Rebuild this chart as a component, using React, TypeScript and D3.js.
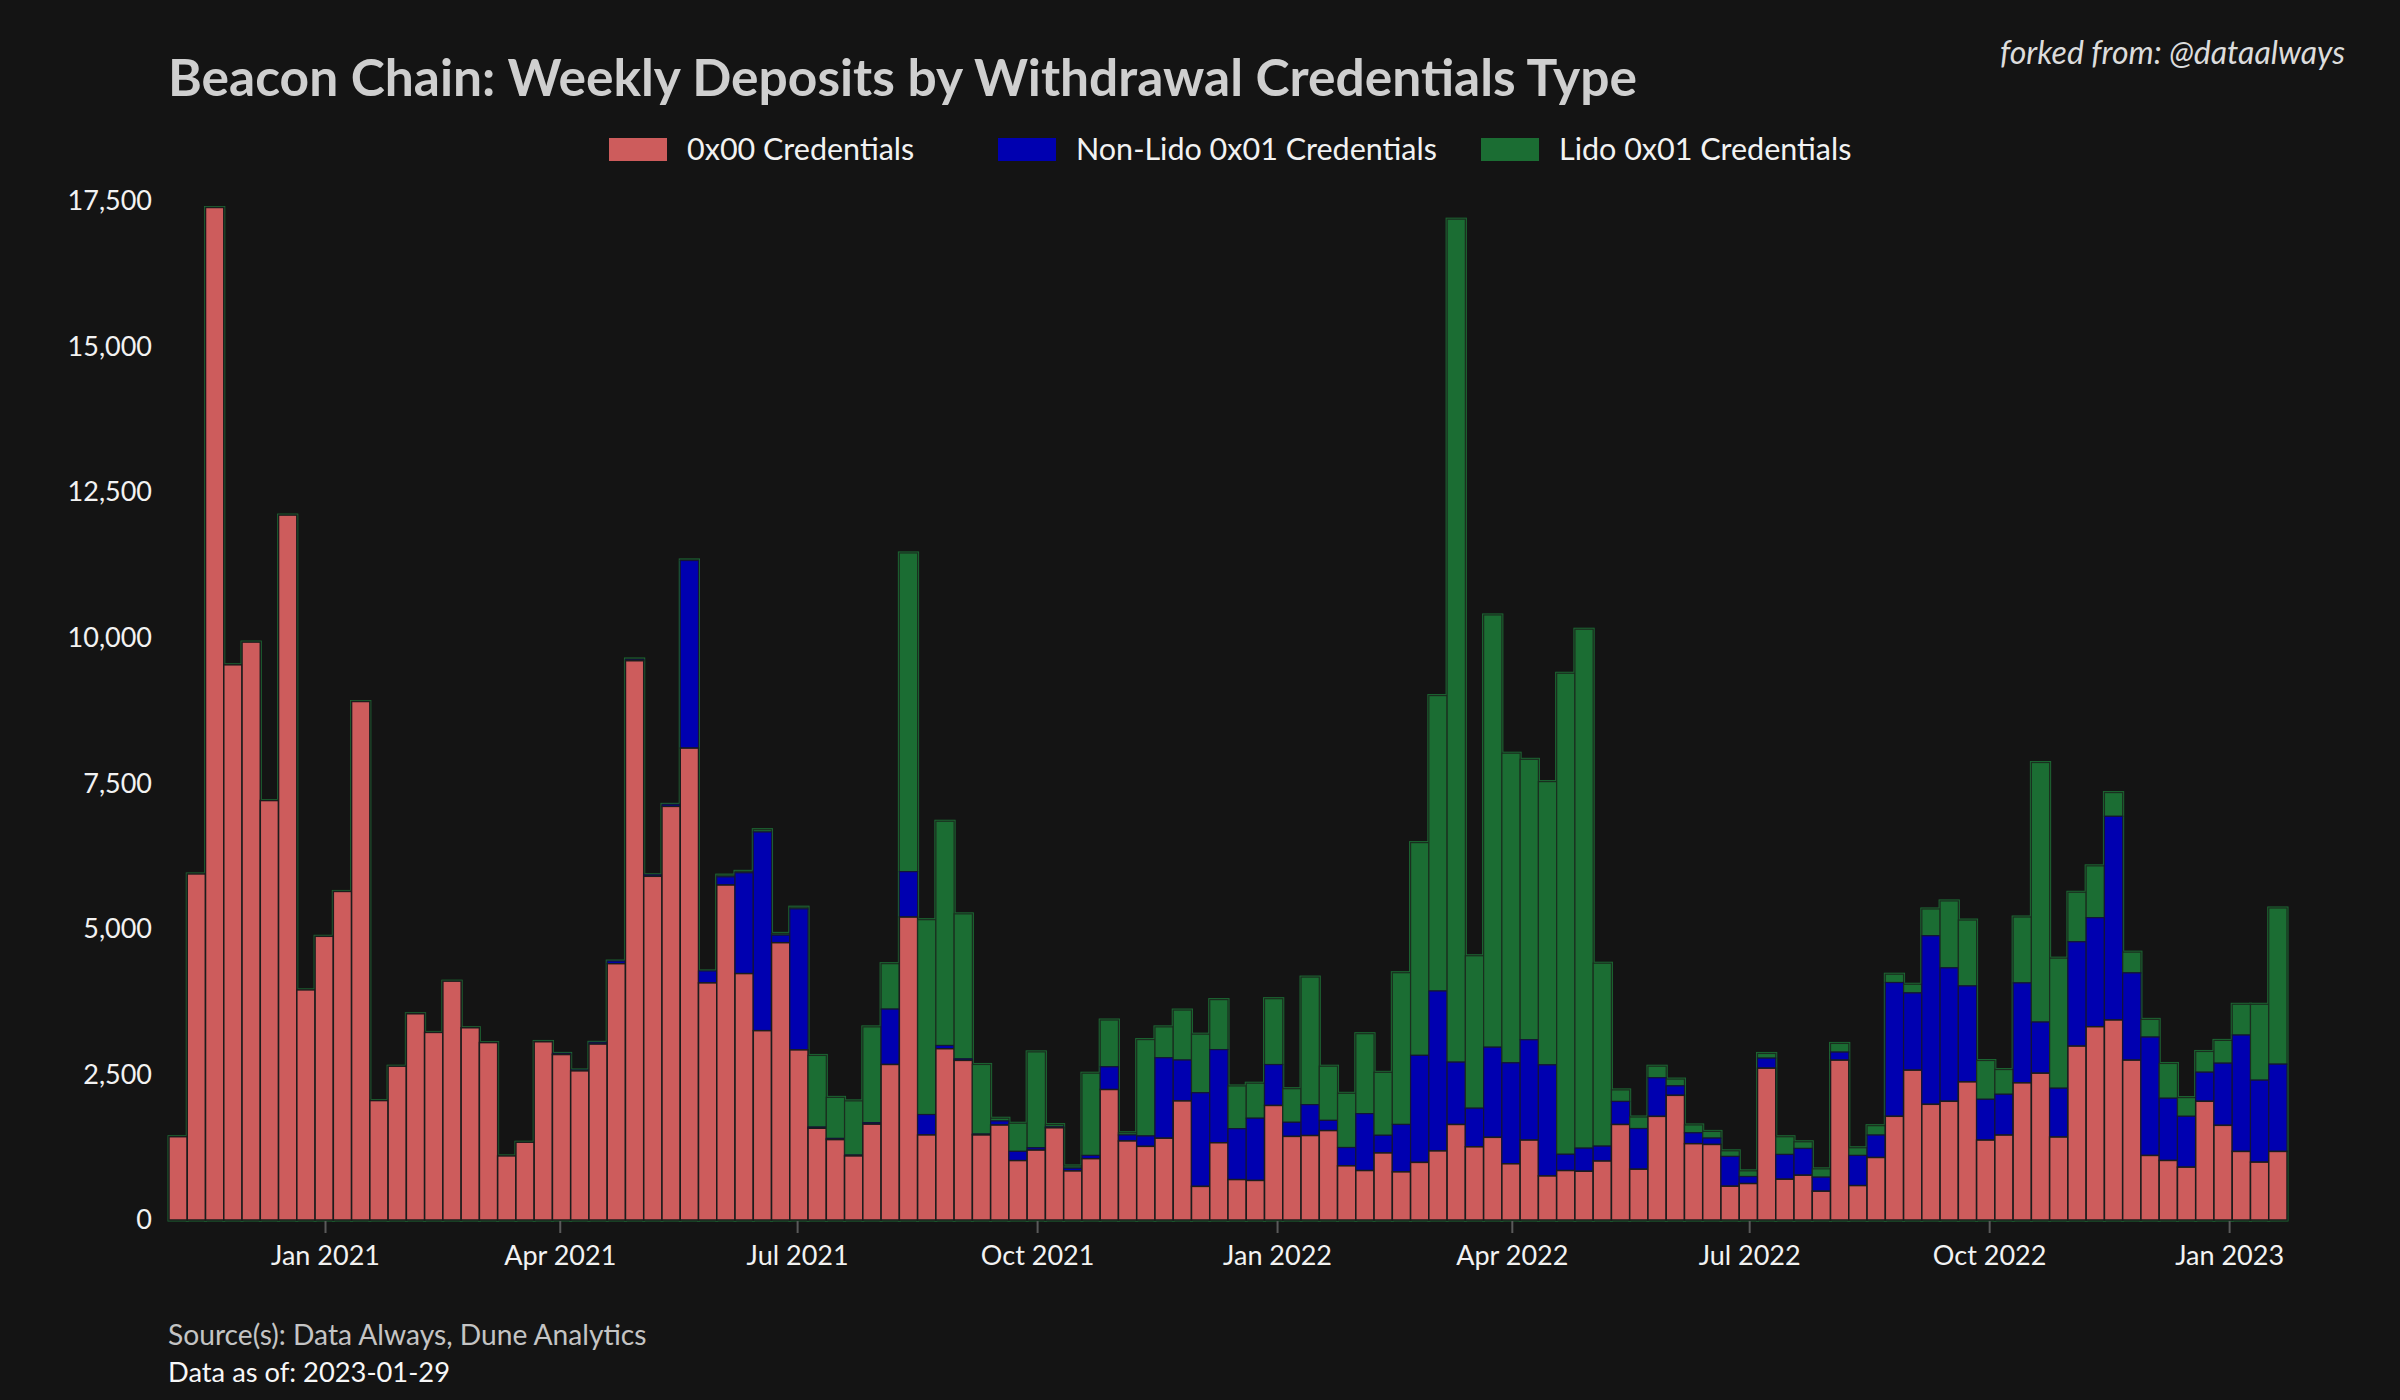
import React from 'react';
import * as d3 from 'd3';

// Week starts (Mondays), Nov 2 2020 .. Jan 16 2023
const firstWeek = new Date(Date.UTC(2020, 10, 2));
const lastWeekEnd = new Date(Date.UTC(2023, 0, 23));
const weeks: Date[] = d3.utcMonday.range(firstWeek, new Date(Date.UTC(2023, 0, 17)));

// 0x00 credentials (ETH deposited per week)
const credentials0x00 = [
  1430, 5940, 17380, 9530, 9920, 7200, 12100, 3950, 4870, 5640,
  8900, 2050, 2640, 3540, 3220, 4100, 3300, 3045, 1100, 1335,
  3060, 2840, 2560, 3020, 4400, 9600, 5900, 7100, 8100, 4070,
  5750, 4230, 3250, 4760, 2920, 1575, 1380, 1100, 1645, 2670,
  5200, 1460, 2940, 2740, 1460, 1630, 1020, 1200, 1583, 842,
  1053, 2240, 1357, 1264, 1404, 2044, 577, 1326, 694, 679,
  1966, 1435, 1450, 1535, 930, 849, 1151, 826, 989, 1186,
  1640, 1256, 1419, 965, 1372, 756, 849, 837, 1012, 1640,
  872, 1779, 2140, 1310, 1297, 580, 626, 2606, 700, 769,
  494, 2744, 591, 1073, 1780, 2572, 1986, 2038, 2371, 1372,
  1458, 2354, 2520, 1424, 2985, 3318, 3433, 2744, 1108, 1022,
  907, 2038, 1625, 1177, 993, 1177,
];

// Non-Lido 0x01 credentials
const nonLido0x01 = [
  0, 0, 0, 0, 0, 0, 0, 0, 0, 0,
  0, 0, 0, 0, 0, 0, 0, 0, 0, 0,
  5, 20, 15, 30, 45, 20, 25, 35, 3220, 205,
  140, 1730, 3410, 130, 2420, 20, 20, 15, 25, 950,
  780, 350, 55, 25, 15, 70, 158, 40, 15, 47,
  55, 390, 102, 179, 1381, 702, 1607, 1599, 874, 1068,
  702, 242, 530, 175, 314, 977, 303, 814, 1837, 2745,
  1070, 663, 1547, 1733, 1722, 1907, 279, 396, 256, 395,
  698, 663, 163, 187, 109, 511, 120, 172, 425, 459,
  241, 138, 517, 385, 2296, 1326, 2893, 2290, 1647, 700,
  700, 1716, 878, 838, 1791, 1871, 3496, 1498, 2032, 1068,
  873, 499, 1067, 1998, 1407, 1498,
];

// Lido 0x01 credentials
const lido0x01 = [
  0, 0, 0, 0, 0, 0, 0, 0, 0, 0,
  0, 0, 0, 0, 0, 0, 0, 0, 0, 0,
  0, 0, 0, 0, 0, 10, 0, 0, 10, 0,
  30, 25, 40, 30, 30, 1230, 705, 930, 1645, 780,
  5470, 3345, 3850, 2490, 1195, 47, 483, 1646, 40, 39,
  1412, 803, 39, 1654, 530, 858, 1006, 858, 733, 601,
  1131, 577, 2190, 930, 931, 1372, 1081, 2605, 3652, 5071,
  14470, 2617, 7420, 5315, 4814, 4862, 8257, 8908, 3140, 198,
  198, 198, 116, 135, 115, 97, 98, 81, 304, 115,
  143, 149, 132, 161, 143, 149, 460, 1149, 1131, 666,
  425, 1131, 4455, 2233, 850, 890, 408, 356, 304, 597,
  321, 356, 391, 528, 1303, 2681,
];

const yTickValues = [0, 2500, 5000, 7500, 10000, 12500, 15000, 17500];
const seriesNames = ['0x00 Credentials', 'Non-Lido 0x01 Credentials', 'Lido 0x01 Credentials'];
const seriesColors = ['#cd5c5c', '#0000b0', '#1b6d33'];

const FONT = "Lato, 'Open Sans', 'DejaVu Sans', sans-serif";

export default function App() {
  const W = 2400;
  const H = 1400;
  const x = d3.scaleUtc().domain([firstWeek, lastWeekEnd]).range([169, 2287]);
  const y = d3.scaleLinear().domain([0, 17500]).range([1220, 200.5]);
  const xTicks = x.ticks(d3.utcMonth.every(3) as any);
  const fmt = d3.utcFormat('%b %Y');
  const yFmt = d3.format(',');

  const bars = weeks.map((d, i) => {
    const r = credentials0x00[i];
    const b = nonLido0x01[i];
    const g = lido0x01[i];
    const x0 = x(d);
    const x1 = x(d3.utcDay.offset(d, 7));
    return { i, x0, x1, r, b, g, total: r + b + g };
  });

  const legendX = [609, 998, 1481];

  return (
    <svg
      width={W}
      height={H}
      style={{ position: 'absolute', left: 0, top: 0, display: 'block' }}
      fontFamily={FONT}
    >
      <rect x={0} y={0} width={W} height={H} fill="#141414" />

      {/* title */}
      <text x={168} y={96} fontSize={51.5} fontWeight={700} fill="#cfcfcf">
        Beacon Chain: Weekly Deposits by Withdrawal Credentials Type
      </text>
      <text x={2345} y={64} fontSize={32} fontStyle="italic" fill="#dcdcdc" textAnchor="end">
        forked from: @dataalways
      </text>

      {/* legend */}
      {seriesNames.map((name, k) => (
        <g key={name}>
          <rect x={legendX[k]} y={138} width={58} height={23} fill={seriesColors[k]} />
          <text x={legendX[k] + 78} y={160} fontSize={30.5} fill="#f2f2f2">
            {name}
          </text>
        </g>
      ))}

      {/* green outlines of total stacks */}
      {bars.map((b) => (
        <rect
          key={'o' + b.i}
          x={b.x0}
          y={y(b.total)}
          width={b.x1 - b.x0}
          height={y(0) - y(b.total)}
          fill={seriesColors[2]}
          stroke="#1d6a34"
          strokeWidth={3}
        />
      ))}
      {/* segments */}
      {bars.map((b) => (
        <g key={'s' + b.i}>
          {b.g > 0 && (
            <rect
              x={b.x0}
              y={y(b.total)}
              width={b.x1 - b.x0}
              height={y(b.r + b.b) - y(b.total)}
              fill={seriesColors[2]}
              stroke="#1a2e1f"
              strokeWidth={1.2}
            />
          )}
          {b.b > 0 && (
            <rect
              x={b.x0}
              y={y(b.r + b.b)}
              width={b.x1 - b.x0}
              height={y(b.r) - y(b.r + b.b)}
              fill={seriesColors[1]}
              stroke="#14143a"
              strokeWidth={1.2}
            />
          )}
          <rect
            x={b.x0}
            y={y(b.r)}
            width={b.x1 - b.x0}
            height={y(0) - y(b.r)}
            fill={seriesColors[0]}
            stroke="#1c1c1c"
            strokeWidth={1.5}
          />
        </g>
      ))}

      {/* x axis ticks */}
      {xTicks.map((t) => (
        <g key={t.toISOString()}>
          <line x1={x(t)} x2={x(t)} y1={1221} y2={1233} stroke="#5a5a5a" strokeWidth={2} />
          <text x={x(t)} y={1265} fontSize={27} fill="#f2f2f2" textAnchor="middle">
            {fmt(t)}
          </text>
        </g>
      ))}

      {/* y axis labels */}
      {yTickValues.map((v) => (
        <text key={v} x={152} y={y(v)} dy="0.35em" fontSize={27} fill="#f2f2f2" textAnchor="end">
          {yFmt(v)}
        </text>
      ))}

      {/* footer */}
      <text x={168} y={1345} fontSize={28.2} fill="#c4c4c4">
        Source(s): Data Always, Dune Analytics
      </text>
      <text x={168} y={1382} fontSize={27.3} fill="#f7f7f7">
        Data as of: 2023-01-29
      </text>
    </svg>
  );
}
